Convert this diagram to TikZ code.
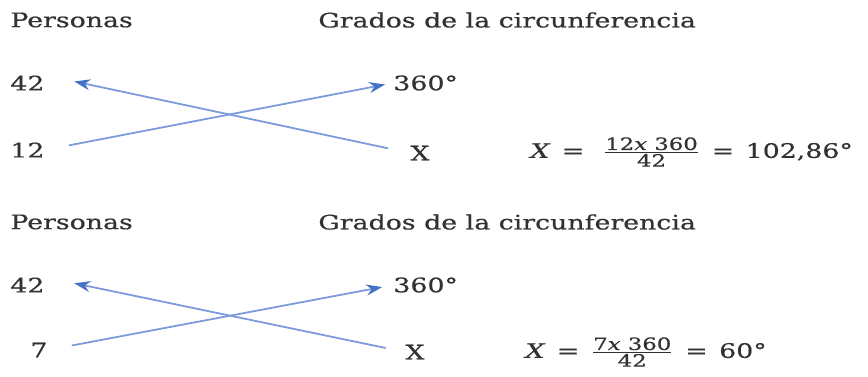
\documentclass[tikz,border=0pt]{standalone}
\usepackage{fontspec}
\setmainfont{DejaVu Serif}[FakeStretch=1.34, FakeBold=0.6]
\usetikzlibrary{arrows.meta}

\definecolor{txtgray}{RGB}{50,50,50}
\definecolor{arrblue}{RGB}{125,155,220}
\definecolor{tipblue}{RGB}{68,114,196}

\tikzset{
  lbl/.style={anchor=west, inner sep=0pt, text=txtgray},
  cross/.style={->, arrblue, line width=0.9pt}
}

\newcommand{\fracnum}[1]{\mbox{\fontsize{8.5}{9}\selectfont #1}}
\newcommand{\eqgap}{\hspace{1.5pt}}

\begin{document}
\begin{tikzpicture}[x=0.5pt, y=-0.5pt, line cap=round, line join=round,
    >={Stealth[length=8pt,width=5.5pt,color=tipblue]}, font=\fontsize{10}{12}\selectfont]

  \useasboundingbox (0,0) rectangle (868,376);

  % ── First rule of three ──────────────────────────────────────────────────────

  % Headings
  \node[lbl] (persA) at (10, 20) {Personas};
  \node[lbl] (gradA) at (318, 20) {Grados de la circunferencia};

  % Values
  \node[lbl] (totA)  at (10, 83)  {42};
  \node[lbl] (degA)  at (393, 83) {360°};
  \node[lbl] (partA) at (10, 150) {12};
  \node[lbl] (unkA)  at (410, 153) {X};

  % Crossing arrows
  \draw[cross, shorten <=11.5pt, shorten >=15pt] (unkA.west) -- (totA.north east);
  \draw[cross, shorten <=12.5pt, shorten >=4pt]  (partA.east) -- (degA.west);

  % Result
  \node[lbl] (resA) at (530, 152)
    {\textit{X}\eqgap{} =\hspace{5pt} $\frac{\fracnum{12\textit{x} 360}}{\fracnum{42}}$\eqgap{} =\eqgap{} 102,86°};

  % ── Second rule of three ─────────────────────────────────────────────────────

  % Headings
  \node[lbl] (persB) at (10, 222) {Personas};
  \node[lbl] (gradB) at (318, 222) {Grados de la circunferencia};

  % Values
  \node[lbl] (totB)  at (10, 285)  {42};
  \node[lbl] (degB)  at (393, 285) {360°};
  \node[lbl] (partB) at (30, 350)  {7};
  \node[lbl] (unkB)  at (405, 352) {X};

  % Crossing arrows
  \draw[cross, shorten <=10pt, shorten >=15pt]  (unkB.west) -- (totB.north east);
  \draw[cross, shorten <=12.5pt, shorten >=5.5pt] (partB.east) -- (degB.west);

  % Result
  \node[lbl] (resB) at (525, 352)
    {\textit{X}\eqgap{} =\eqgap{} $\frac{\fracnum{7\textit{x} 360}}{\fracnum{42}}$\eqgap{} =\eqgap{} 60°};

\end{tikzpicture}
\end{document}
